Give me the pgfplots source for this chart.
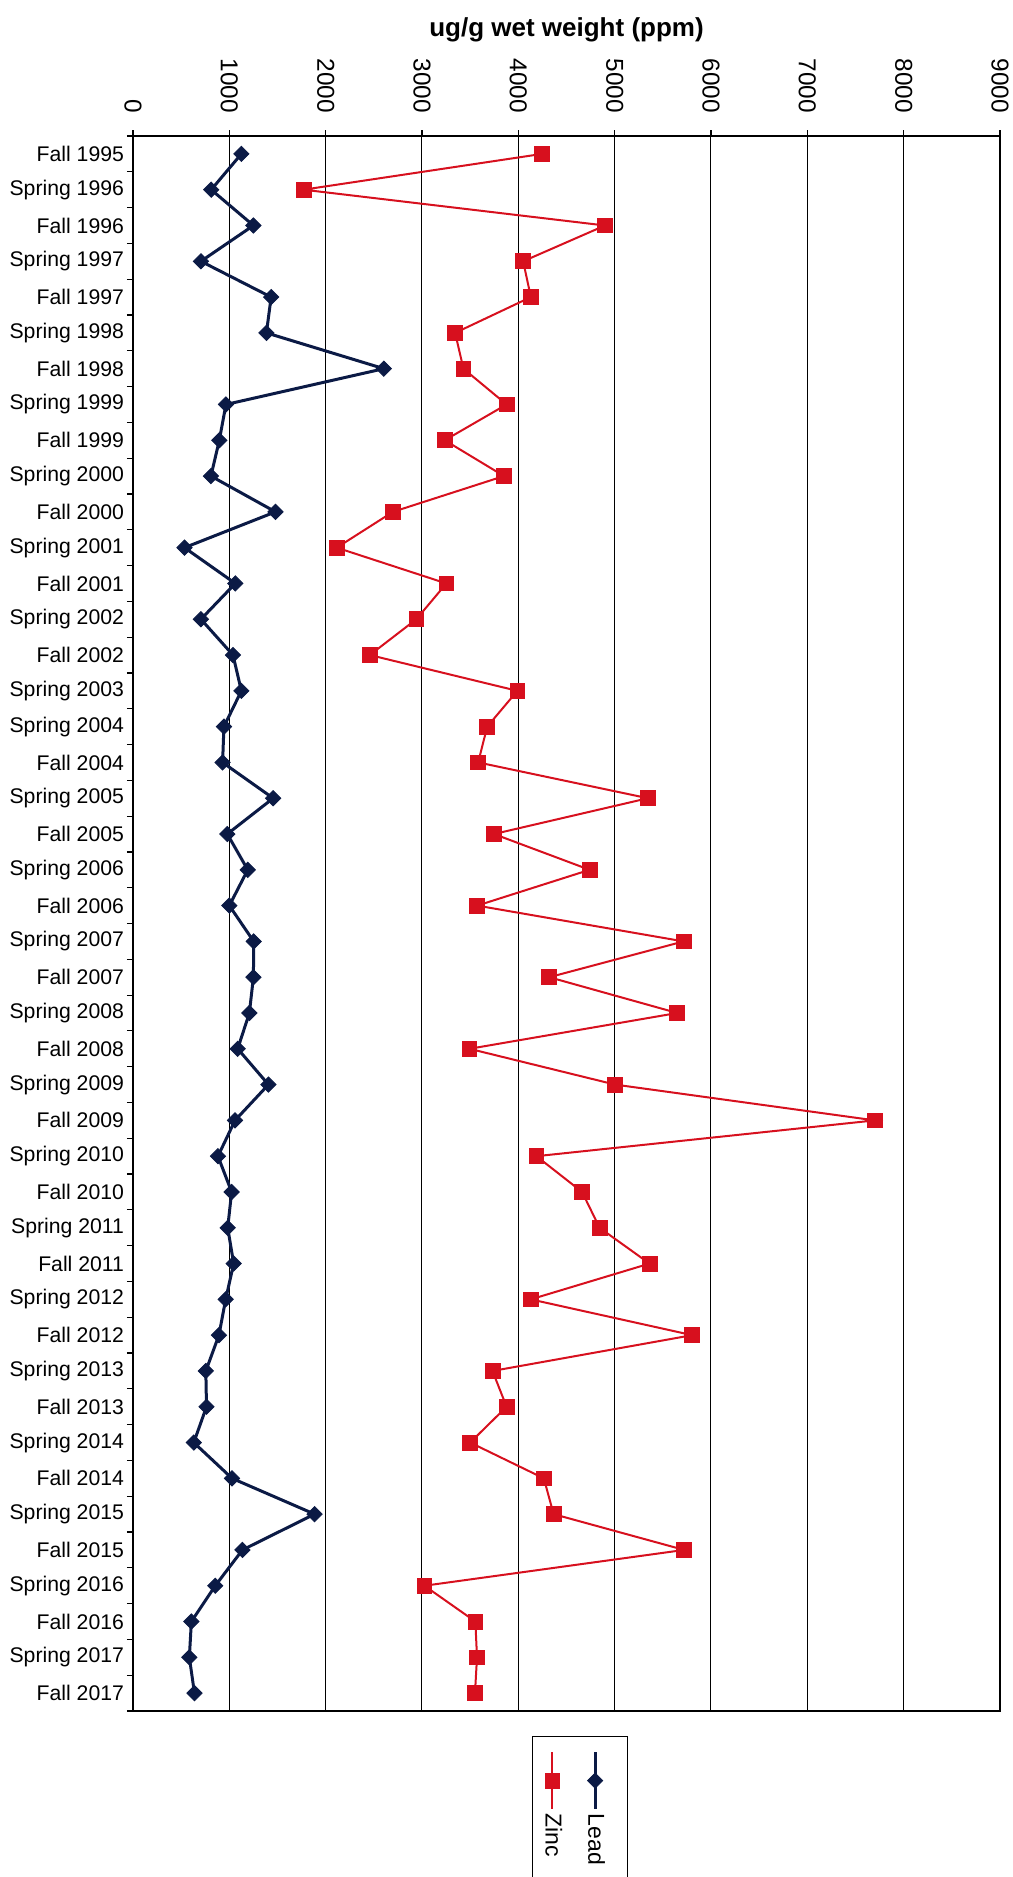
\documentclass[border=0pt]{standalone}
\usepackage{pgfplots}
\pgfplotsset{compat=1.18}
\usepackage{fontspec}
\setmainfont{Liberation Sans}
\definecolor{leadc}{HTML}{0B1A45}
\definecolor{zincc}{HTML}{D7101E}
\pgfplotsset{
  vleg/.style={legend image code/.code={\draw[mark repeat=2,mark phase=2,##1] plot coordinates {(0cm,0cm) (0cm,-0.5cm) (0cm,-1cm)};
    \node[rotate=-90, anchor=west, text=black, inner sep=0pt] at (0cm,-1.06cm) {#1};}}
}
\begin{document}
\begin{tikzpicture}
\begin{axis}[
  scale only axis, width=433.5pt, height=787.5pt,
  xmin=0, xmax=9000, ymin=-0.5, ymax=43.5, y dir=reverse,
  axis line style={black, line width=0.9pt},
  xtick={0,1000,...,9000},
  xtick pos=upper, xticklabel pos=upper,
  xmajorgrids, grid style={black, line width=0.5pt},
  tick align=outside, major tick length=3pt,
  tick style={black, line width=0.6pt},
  xticklabel style={rotate=-90, anchor=east, xshift=-5pt, font=\fontsize{12.2}{14}\selectfont},
  /pgf/number format/assume math mode=true,
  /pgf/number format/set thousands separator={},
  scaled x ticks=false,
  ytick={-0.5,0.5,...,43.5}, yticklabels={},
  ytick pos=left,
  extra y ticks={0,1,...,43},
  extra y tick style={tick style={draw=none}, yticklabel style={font=\fontsize{10.6}{12}\selectfont, xshift=2pt}},
  extra y tick labels={Fall 1995,Spring 1996,Fall 1996,Spring 1997,Fall 1997,Spring 1998,Fall 1998,Spring 1999,Fall 1999,Spring 2000,Fall 2000,Spring 2001,Fall 2001,Spring 2002,Fall 2002,Spring 2003,Spring 2004,Fall 2004,Spring 2005,Fall 2005,Spring 2006,Fall 2006,Spring 2007,Fall 2007,Spring 2008,Fall 2008,Spring 2009,Fall 2009,Spring 2010,Fall 2010,Spring 2011,Fall 2011,Spring 2012,Fall 2012,Spring 2013,Fall 2013,Spring 2014,Fall 2014,Spring 2015,Fall 2015,Spring 2016,Fall 2016,Spring 2017,Fall 2017},
  title={\textbf{ug/g wet weight (ppm)}},
  title style={at={(0.5,1)}, anchor=center, yshift=47pt, font=\fontsize{13}{15}\selectfont},
  legend columns=2, reverse legend,
  legend style={at={(0.5156,-0.0159)}, anchor=north, draw=black, line width=0.6pt,
    font=\fontsize{11.5}{13}\selectfont, inner xsep=5pt, inner ysep=7pt,
    column sep=5.25pt, nodes={inner sep=0pt}},
]
\coordinate (A) at (axis cs:0,-0.5);
\coordinate (B) at (axis cs:9000,43.5);
\addplot[leadc, line width=1.5pt, mark=square*, mark size=2.7pt, mark options={rotate=45, solid, line width=0.4pt},
  vleg=Lead] coordinates {
(1125,0) (812,1) (1250,2) (705,3) (1434,4) (1385,5) (2604,6) (965,7) (896,8) (809,9)
(1479,10) (535,11) (1062,12) (705,13) (1038,14) (1125,15) (944,16) (930,17) (1455,18) (979,19)
(1191,20) (1000,21) (1253,22) (1250,23) (1208,24) (1087,25) (1406,26) (1059,27) (882,28) (1024,29)
(983,30) (1045,31) (962,32) (892,33) (756,34) (763,35) (631,36) (1028,37) (1885,38) (1136,39)
(854,40) (606,41) (585,42) (638,43)
};
\addlegendentry{}
\addplot[zincc, line width=1pt, mark=square*, mark size=3.7pt, mark options={solid, line width=0.4pt},
  vleg=Zinc] coordinates {
(4247,0) (1770,1) (4900,2) (4050,3) (4130,4) (3344,5) (3430,6) (3878,7) (3236,8) (3851,9)
(2698,10) (2115,11) (3253,12) (2941,13) (2458,14) (3990,15) (3677,16) (3583,17) (5345,18) (3747,19)
(4740,20) (3573,21) (5716,22) (4321,23) (5650,24) (3493,25) (5005,26) (7702,27) (4188,28) (4662,29)
(4843,30) (5362,31) (4129,32) (5805,33) (3732,34) (3878,35) (3500,36) (4265,37) (4366,38) (5721,39)
(3025,40) (3554,41) (3571,42) (3550,43)
};
\addlegendentry{}
\end{axis}
\pgfresetboundingbox
\path ([xshift=-66.5pt,yshift=68pt]A) rectangle ([xshift=6.5pt,yshift=-83pt]B);
\end{tikzpicture}
\end{document}
